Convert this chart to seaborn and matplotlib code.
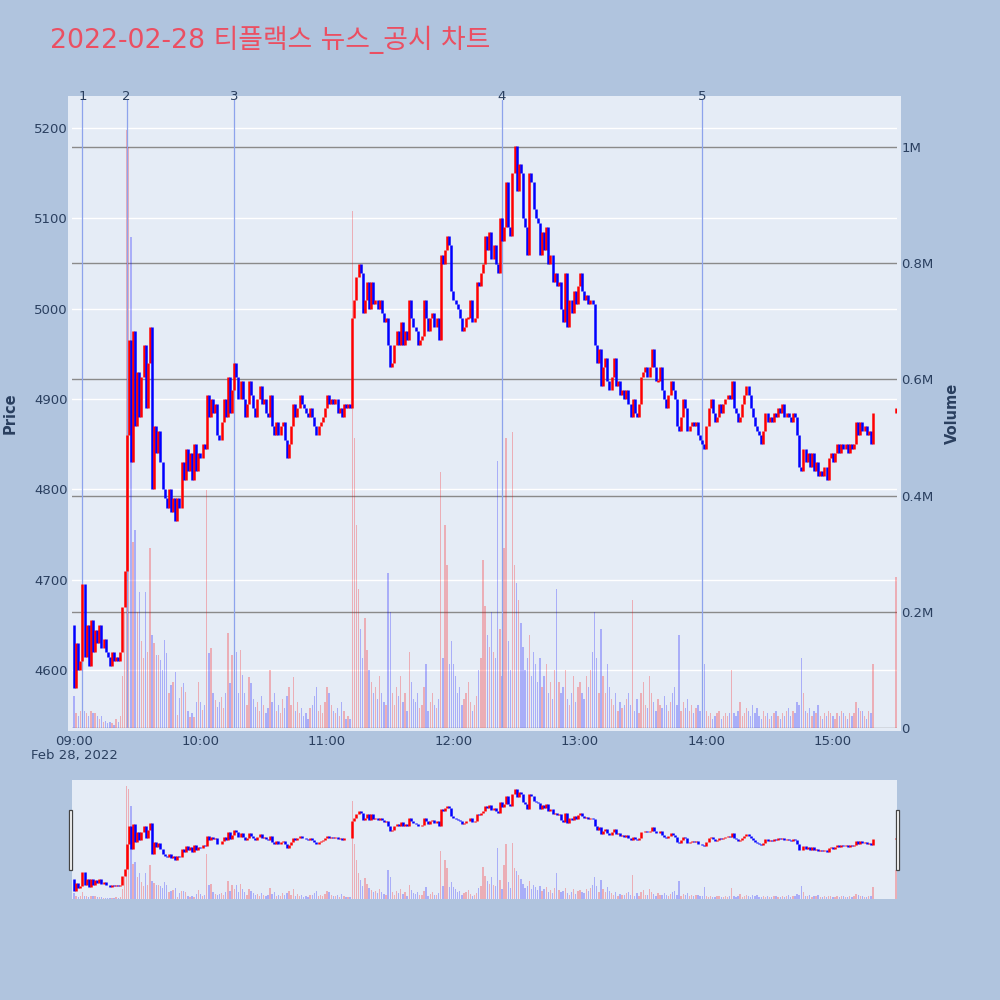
import numpy as np
import pandas as pd
import seaborn as sns
import matplotlib.pyplot as plt
from matplotlib.patches import Rectangle
from matplotlib.transforms import blended_transform_factory

# 1-minute closes, 09:00 ~ 15:19 (10 per row)
closes = [
    4580, 4630, 4600, 4610, 4695, 4615, 4650, 4605, 4655, 4620,
    4645, 4630, 4650, 4625, 4635, 4620, 4615, 4605, 4620, 4610,
    4615, 4610, 4620, 4670, 4710, 4860, 4965, 4830, 4975, 4870,
    4930, 4880, 4925, 4960, 4890, 4940, 4980, 4800, 4870, 4840,
    4865, 4830, 4800, 4790, 4780, 4800, 4775, 4790, 4765, 4790,
    4780, 4830, 4810, 4845, 4820, 4840, 4810, 4850, 4820, 4840,
    4835, 4850, 4845, 4905, 4880, 4900, 4885, 4895, 4860, 4855,
    4875, 4900, 4880, 4925, 4885, 4910, 4940, 4925, 4900, 4920,
    4900, 4880, 4895, 4920, 4905, 4890, 4880, 4900, 4915, 4895,
    4900, 4885, 4880, 4905, 4870, 4860, 4875, 4860, 4870, 4875,
    4855, 4835, 4850, 4870, 4895, 4880, 4890, 4905, 4895, 4890,
    4885, 4880, 4890, 4880, 4870, 4860, 4870, 4875, 4880, 4890,
    4905, 4895, 4900, 4895, 4900, 4885, 4890, 4880, 4895, 4890,
    4895, 4890, 4990, 5010, 5035, 5050, 5040, 4995, 5010, 5030,
    5000, 5030, 5005, 5010, 5000, 5010, 4995, 4985, 4990, 4960,
    4935, 4940, 4960, 4975, 4960, 4985, 4960, 4975, 4965, 5010,
    4990, 4980, 4975, 4960, 4965, 4970, 5010, 4990, 4975, 4990,
    4995, 4980, 4990, 4965, 5060, 5050, 5065, 5080, 5070, 5020,
    5010, 5005, 5000, 4990, 4975, 4980, 4990, 4990, 5010, 4985,
    4990, 5030, 5025, 5040, 5050, 5080, 5065, 5085, 5055, 5070,
    5050, 5040, 5100, 5075, 5090, 5140, 5090, 5080, 5150, 5180,
    5130, 5160, 5150, 5100, 5090, 5060, 5150, 5140, 5110, 5100,
    5095, 5060, 5085, 5065, 5090, 5050, 5060, 5030, 5040, 5025,
    5030, 5000, 4985, 5040, 4980, 5010, 4995, 5020, 5005, 5025,
    5040, 5020, 5010, 5015, 5005, 5010, 5005, 4960, 4940, 4955,
    4915, 4935, 4945, 4920, 4910, 4925, 4945, 4915, 4920, 4905,
    4910, 4900, 4910, 4895, 4880, 4900, 4885, 4880, 4895, 4925,
    4930, 4935, 4925, 4935, 4955, 4935, 4920, 4920, 4935, 4910,
    4900, 4890, 4905, 4920, 4910, 4900, 4870, 4865, 4880, 4900,
    4890, 4865, 4870, 4875, 4870, 4875, 4860, 4855, 4850, 4845,
    4870, 4890, 4900, 4885, 4875, 4880, 4895, 4885, 4895, 4900,
    4905, 4900, 4920, 4890, 4885, 4875, 4880, 4895, 4905, 4915,
    4905, 4890, 4880, 4870, 4865, 4860, 4850, 4865, 4885, 4875,
    4880, 4875, 4885, 4880, 4890, 4885, 4895, 4880, 4885, 4880,
    4875, 4885, 4880, 4860, 4825, 4820, 4845, 4830, 4840, 4825,
    4840, 4820, 4830, 4815, 4820, 4815, 4825, 4810, 4835, 4840,
    4830, 4840, 4850, 4840, 4850, 4845, 4850, 4840, 4850, 4845,
    4850, 4875, 4860, 4875, 4865, 4870, 4860, 4865, 4850, 4885,
]
first_open = 4650

# 1-minute volumes (thousand shares)
volumes = [
    55, 25, 20, 30, 60, 30, 25, 20, 30, 25,
    25, 20, 15, 20, 10, 12, 8, 10, 8, 6,
    15, 10, 20, 90, 200, 1030, 1000, 845, 320, 340,
    200, 234, 150, 120, 234, 130, 310, 160, 146, 126,
    126, 117, 100, 151, 129, 60, 74, 80, 96, 22,
    52, 70, 77, 62, 30, 19, 25, 19, 45, 79,
    45, 31, 40, 410, 129, 138, 60, 48, 36, 45,
    53, 34, 60, 163, 77, 126, 90, 131, 60, 134,
    91, 60, 40, 88, 77, 50, 36, 45, 30, 55,
    40, 25, 35, 100, 45, 60, 30, 40, 25, 50,
    35, 55, 70, 40, 88, 30, 45, 25, 35, 20,
    25, 15, 35, 40, 55, 70, 30, 40, 25, 45,
    70, 60, 40, 30, 25, 35, 20, 45, 30, 15,
    20, 15, 890, 500, 350, 240, 170, 120, 190, 134,
    100, 80, 60, 70, 50, 90, 60, 45, 40, 267,
    200, 60, 40, 70, 55, 90, 45, 60, 30, 130,
    80, 50, 45, 60, 35, 40, 70, 110, 30, 45,
    60, 40, 35, 50, 440, 120, 350, 280, 110, 150,
    110, 90, 60, 70, 40, 50, 60, 80, 45, 30,
    40, 55, 100, 120, 290, 210, 160, 140, 200, 130,
    120, 460, 170, 90, 310, 500, 150, 100, 510, 280,
    250, 220, 180, 140, 100, 120, 160, 90, 130, 110,
    80, 120, 70, 90, 110, 60, 80, 50, 100, 240,
    80, 60, 70, 100, 50, 40, 60, 90, 45, 70,
    80, 60, 50, 90, 70, 100, 130, 200, 120, 60,
    170, 90, 60, 110, 70, 50, 40, 60, 30, 45,
    35, 40, 50, 60, 40, 220, 30, 50, 25, 60,
    80, 40, 35, 90, 60, 45, 30, 50, 40, 35,
    55, 40, 30, 45, 60, 70, 40, 160, 30, 45,
    35, 50, 30, 40, 25, 35, 40, 30, 25, 110,
    30, 20, 25, 15, 20, 25, 30, 15, 20, 25,
    20, 25, 100, 25, 20, 30, 45, 20, 25, 35,
    30, 20, 40, 25, 35, 20, 15, 30, 20, 25,
    15, 20, 25, 30, 20, 15, 25, 20, 30, 35,
    20, 30, 25, 45, 40, 120, 60, 30, 25, 35,
    20, 30, 25, 40, 20, 15, 25, 20, 30, 25,
    20, 15, 25, 20, 30, 25, 20, 15, 25, 20,
    25, 45, 35, 30, 30, 20, 15, 30, 25, 110,
]

# closing auction
auction_time = '2022-02-28 15:30'
auction_close = 4890
auction_volume = 260

news_times = ['09:04', '09:25', '10:16', '12:23', '13:58']
news_labels = ['1', '2', '3', '4', '5']

price_ticks = [4600, 4700, 4800, 4900, 5000, 5100, 5200]
vol_ticks = [0, 200, 400, 600, 800, 1000]
vol_tick_labels = ['0', '0.2M', '0.4M', '0.6M', '0.8M', '1M']
hour_labels = ['09:00', '10:00', '11:00', '12:00', '13:00', '14:00', '15:00']

title = '2022-02-28 티플랙스 뉴스_공시 차트'

# ---- build frame ----
times = pd.date_range('2022-02-28 09:00', periods=len(closes), freq='min')
times = times.append(pd.DatetimeIndex([auction_time]))
close = np.array(closes + [auction_close])
opens = np.array([first_open] + list(close[:-1]))
df = pd.DataFrame({'time': times, 'open': opens, 'close': close,
                   'volume': volumes + [auction_volume]})
t0 = df['time'].iloc[0]
df['minute'] = (df['time'] - t0).dt.total_seconds() / 60
df['dir'] = np.where(df['close'] >= df['open'], 'up', 'down')
df['color'] = np.where(df['dir'] == 'up', '#FF0000', '#0000FF')
df['lo'] = df[['open', 'close']].min(axis=1)
df['hi'] = df[['open', 'close']].max(axis=1)
flat = df['lo'] == df['hi']
df.loc[flat, 'lo'] -= 1
df.loc[flat, 'hi'] += 1

def to_min(hhmm):
    return (pd.Timestamp('2022-02-28 ' + hhmm) - t0).total_seconds() / 60

BG = '#B0C4DE'
PLOT_BG = '#E5ECF6'
TXT = '#2a3f5f'
XLIM = (-0.95, 390.4)
PLIM = (4536, 5231)
VLIM = (0, 1081)

plt.rcParams['font.family'] = ['DejaVu Sans']

def draw_volume(ax):
    sns.histplot(data=df, x='minute', weights='volume', hue='dir',
                 palette={'up': '#FF0000', 'down': '#0000FF'}, discrete=True,
                 shrink=0.65, alpha=0.26, linewidth=0, multiple='layer',
                 legend=False, ax=ax, zorder=2)
    ax.set_xlabel('')
    ax.set_ylabel('')

def draw_candles(ax, lw):
    ax.vlines(df['minute'], df['lo'], df['hi'], colors=df['color'],
              linewidth=lw, zorder=3)

fig = plt.figure(figsize=(10, 10), dpi=100, facecolor=BG)
fig.add_artist(Rectangle((0.068, 0.269), 0.833, 0.635, transform=fig.transFigure,
                         facecolor=PLOT_BG, edgecolor='none', zorder=-1))

# main panel
ax_p = fig.add_axes([0.072, 0.272, 0.825, 0.628])
ax_p.set_facecolor(PLOT_BG)
ax_v = ax_p.twinx()
ax_c = ax_p.twinx()

ax_p.set_xlim(*XLIM)
ax_p.set_ylim(*PLIM)
ax_p.set_yticks(price_ticks)
ax_p.grid(axis='y', color='white', linewidth=1.0)
ax_p.grid(axis='x', visible=False)
ax_p.set_xticks([to_min(h) for h in hour_labels])
xt = list(hour_labels)
xt[0] = '09:00\nFeb 28, 2022'
ax_p.set_xticklabels(xt, linespacing=1.1)
ax_p.tick_params(axis='both', length=0, labelsize=9.5, labelcolor=TXT)
ax_p.tick_params(axis='x', pad=5)
ax_p.tick_params(axis='y', pad=3)

draw_volume(ax_v)
ax_v.set_ylim(*VLIM)
ax_v.set_xlim(*XLIM)
ax_v.set_yticks(vol_ticks)
ax_v.set_yticklabels(vol_tick_labels)
ax_v.yaxis.tick_right()
ax_v.set_axisbelow(True)
ax_v.grid(axis='y', color='#8A8A8A', linewidth=1.0)
ax_v.grid(axis='x', visible=False)
ax_v.tick_params(axis='y', length=0, labelsize=9.5, labelcolor=TXT, pad=3)

tr = blended_transform_factory(ax_v.transData, ax_v.transAxes)
for t, lab in zip(news_times, news_labels):
    m = to_min(t)
    ax_v.axvline(m, color='#8DA3EC', linewidth=0.9, zorder=2.5)
    ax_v.text(m, 1.006, lab, transform=tr, ha='center', va='center',
              fontsize=9.5, color=TXT)

draw_candles(ax_c, 1.8)
ax_c.set_xlim(*XLIM)
ax_c.set_ylim(*PLIM)
ax_c.yaxis.set_visible(False)

for a in (ax_p, ax_v, ax_c):
    for s in a.spines.values():
        s.set_visible(False)

fig.text(0.010, 0.587, 'Price', rotation=90, ha='center', va='center',
         fontsize=10.5, fontweight='bold', color=TXT)
fig.text(0.952, 0.587, 'Volume', rotation=90, ha='center', va='center',
         fontsize=10.5, fontweight='bold', color=TXT)
fig.text(0.05, 0.960, title, ha='left', va='center', fontsize=19.3,
         color='#EB4F62', family=['DejaVu Sans', 'Noto Sans CJK KR'])

# range slider
ax_s = fig.add_axes([0.072, 0.101, 0.825, 0.119])
ax_s.set_facecolor(PLOT_BG)
draw_volume(ax_s)
ax_s.set_xlim(*XLIM)
ax_s.set_ylim(*VLIM)
ax_s2 = ax_s.twinx()
draw_candles(ax_s2, 1.8)
ax_s2.set_xlim(*XLIM)
ax_s2.set_ylim(*PLIM)
for a in (ax_s, ax_s2):
    a.set_xticks([])
    a.set_yticks([])
    a.grid(False)
    for s in a.spines.values():
        s.set_visible(False)

for x0 in (0.0685, 0.8955):
    fig.add_artist(Rectangle((x0, 0.130), 0.0035, 0.060, transform=fig.transFigure,
                             facecolor='white', edgecolor='#444444', linewidth=0.9))

fig.savefig('out.png', dpi=100, facecolor=BG)
